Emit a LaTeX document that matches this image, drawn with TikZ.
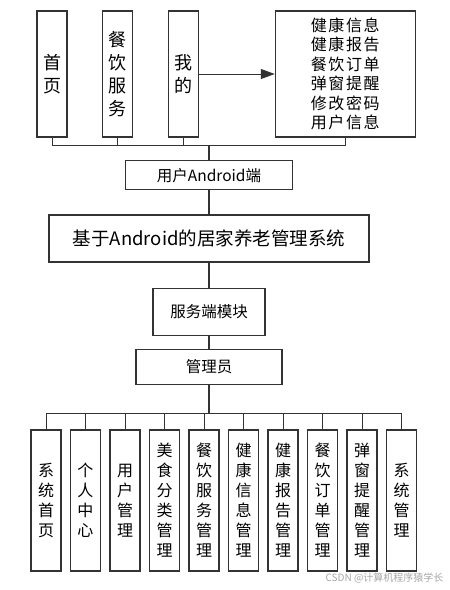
\documentclass[tikz,border=0pt]{standalone}
\usepackage[]{xcolor}
\usepackage{fontspec}
\setmainfont{Noto Sans CJK SC}
\usetikzlibrary{positioning,arrows.meta}

\definecolor{boxline}{HTML}{333333}

\begin{document}
\begin{tikzpicture}[
            x=1pt, y=-1pt,
            node distance=34pt,
            tallbox/.style={rectangle, draw=boxline, line width=1.1pt, minimum width=30pt, minimum height=126pt, inner sep=0pt, align=center, font=\fontsize{18}{23}\selectfont},
            infobox/.style={rectangle, draw=boxline, line width=1.1pt, minimum width=140pt, minimum height=126pt, align=center, font=\fontsize{16}{19.5}\selectfont\addfontfeatures{LetterSpace=10}},
            midbox/.style={rectangle, draw=boxline, line width=1.1pt, inner sep=0pt, align=center, font=\fontsize{15.5}{17}\selectfont},
            titlebox/.style={rectangle, draw=boxline, line width=1.1pt, minimum width=320pt, minimum height=47pt, align=center, font=\fontsize{18.5}{20}\selectfont},
            leafbox/.style={rectangle, draw=boxline, line width=1.1pt, minimum width=30pt, minimum height=141pt, inner sep=0pt, align=center, font=\fontsize{16}{20}\selectfont},
            line/.style={draw=boxline, line width=0.9pt},
            trunk/.style={draw=boxline, line width=1.4pt},
            arrow/.style={-{Triangle[length=14pt, width=10pt]}, draw=boxline, line width=1pt}
        ]
            \useasboundingbox (0,0) rectangle (450,590);

            % user side
            \node[tallbox] (shouye) at (52,74) {首\\页};
            \node[tallbox, right=34pt of shouye] (canyin) {餐\\饮\\服\\务};
            \node[tallbox, right=35pt of canyin] (wode) {我\\的};
            \node[infobox, right=76pt of wode] (info) {健康信息\\健康报告\\餐饮订单\\弹窗提醒\\修改密码\\用户信息};

            \node[titlebox] (sys) at (209,238.5) {基于Android的居家养老管理系统};
            \node[midbox, minimum width=167pt, minimum height=29pt, above=24pt of sys] (client) {用户Android端};
            \node[midbox, minimum width=112pt, minimum height=47pt, below=25pt of sys] (server) {服务端模块};
            \node[midbox, minimum width=146pt, minimum height=35pt, below=13pt of server] (admin) {管理员};

            % admin side
            \foreach \name/\txt [count=\i from 0] in {
                b0/{系\\统\\首\\页}, b1/{个\\人\\中\\心}, b2/{用\\户\\管\\理},
                b3/{美\\食\\分\\类\\管\\理}, b4/{餐\\饮\\服\\务\\管\\理},
                b5/{健\\康\\信\\息\\管\\理}, b6/{健\\康\\报\\告\\管\\理},
                b7/{餐\\饮\\订\\单\\管\\理}, b8/{弹\\窗\\提\\醒\\管\\理}, b9/{系\\统\\管\\理}}
                \node[leafbox] (\name) at (46+39.5*\i,500.5) {\txt};

            \coordinate (topbus) at (209,145);
            \coordinate (botbus) at (209,413);

            \draw[arrow] (wode) -- (info);

            \draw[line] (shouye.south) |- (topbus);
            \draw[line] (info.south) |- (topbus);
            \draw[line] (canyin.south) -- (canyin.south |- topbus);
            \draw[line] (wode.south) -- (wode.south |- topbus);
            \draw[trunk] (topbus) -- (client.north);
            \draw[trunk] (client) -- (sys);
            \draw[trunk] (sys) -- (server);
            \draw[trunk] (server) -- (admin);
            \draw[trunk] (admin.south) -- (botbus);

            \draw[line] (b0.north |- botbus) -- (b9.north |- botbus);
            \foreach \i in {0,...,9}
                \draw[line] (b\i.north) -- (b\i.north |- botbus);

            \node[anchor=east, text=black!35, font=\fontsize{10}{12}\selectfont] (mark) at (447,578) {CSDN @计算机程序猿学长};
        \end{tikzpicture}
\end{document}
